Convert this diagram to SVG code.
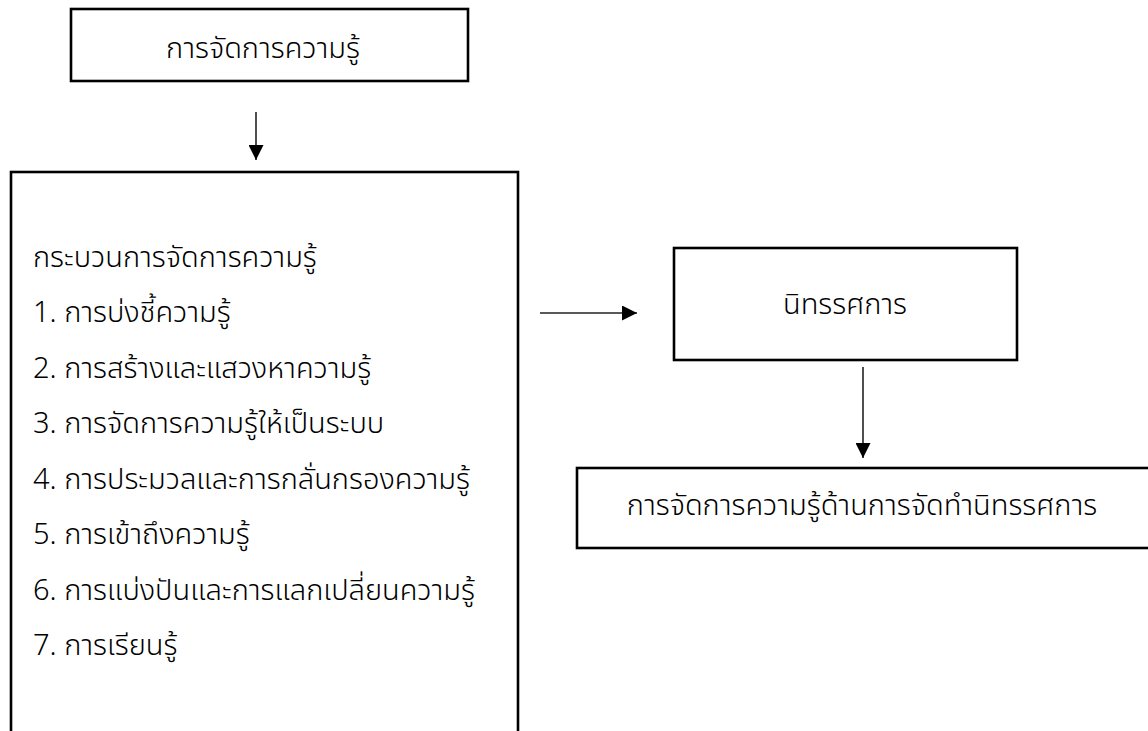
<svg xmlns="http://www.w3.org/2000/svg" width="1148" height="731" viewBox="0 0 1148 731">
<style>
.box{fill:#fff;stroke:#000;stroke-width:2.6}
.t{font-family:"Noto Sans Thai","Leelawadee UI","Noto Sans","DejaVu Sans",sans-serif;font-size:29px;font-weight:300;fill:#000}
.c{stroke:#222;stroke-width:1.6;fill:none}
</style>
<defs>
<marker id="ah" markerWidth="15" markerHeight="15" refX="15" refY="7.5" orient="auto" markerUnits="userSpaceOnUse" viewBox="0 0 15 15">
<path d="M0,0 L15,7.5 L0,15 Z" fill="#000"/>
</marker>
</defs>
<rect width="1148" height="731" fill="#fff"/>
<g id="n1">
<rect class="box" x="71" y="9" width="397" height="72"/>
<text class="t" x="263" y="58" text-anchor="middle">การจัดการความรู้</text>
</g>
<g id="n2">
<rect class="box" x="11" y="172" width="507" height="600"/>
<text class="t" x="33" y="267">กระบวนการจัดการความรู้</text>
<text class="t" x="33" y="322">1. การบ่งชี้ความรู้</text>
<text class="t" x="33" y="378">2. การสร้างและแสวงหาความรู้</text>
<text class="t" x="33" y="433">3. การจัดการความรู้ให้เป็นระบบ</text>
<text class="t" x="33" y="489">4. การประมวลและการกลั่นกรองความรู้</text>
<text class="t" x="33" y="544">5. การเข้าถึงความรู้</text>
<text class="t" x="33" y="600">6. การแบ่งปันและการแลกเปลี่ยนความรู้</text>
<text class="t" x="33" y="655">7. การเรียนรู้</text>
</g>
<g id="n3">
<rect class="box" x="674" y="248" width="343" height="112"/>
<text class="t" x="845" y="314" text-anchor="middle">นิทรรศการ</text>
</g>
<g id="n4">
<rect class="box" x="577" y="468" width="600" height="80"/>
<text class="t" x="862" y="515" text-anchor="middle">การจัดการความรู้ด้านการจัดทำนิทรรศการ</text>
</g>
<g id="connectors">
<line class="c" x1="256" y1="112" x2="256" y2="160" marker-end="url(#ah)"/>
<line class="c" x1="540" y1="313" x2="637" y2="313" marker-end="url(#ah)"/>
<line class="c" x1="863" y1="367" x2="863" y2="458" marker-end="url(#ah)"/>
</g>
</svg>
